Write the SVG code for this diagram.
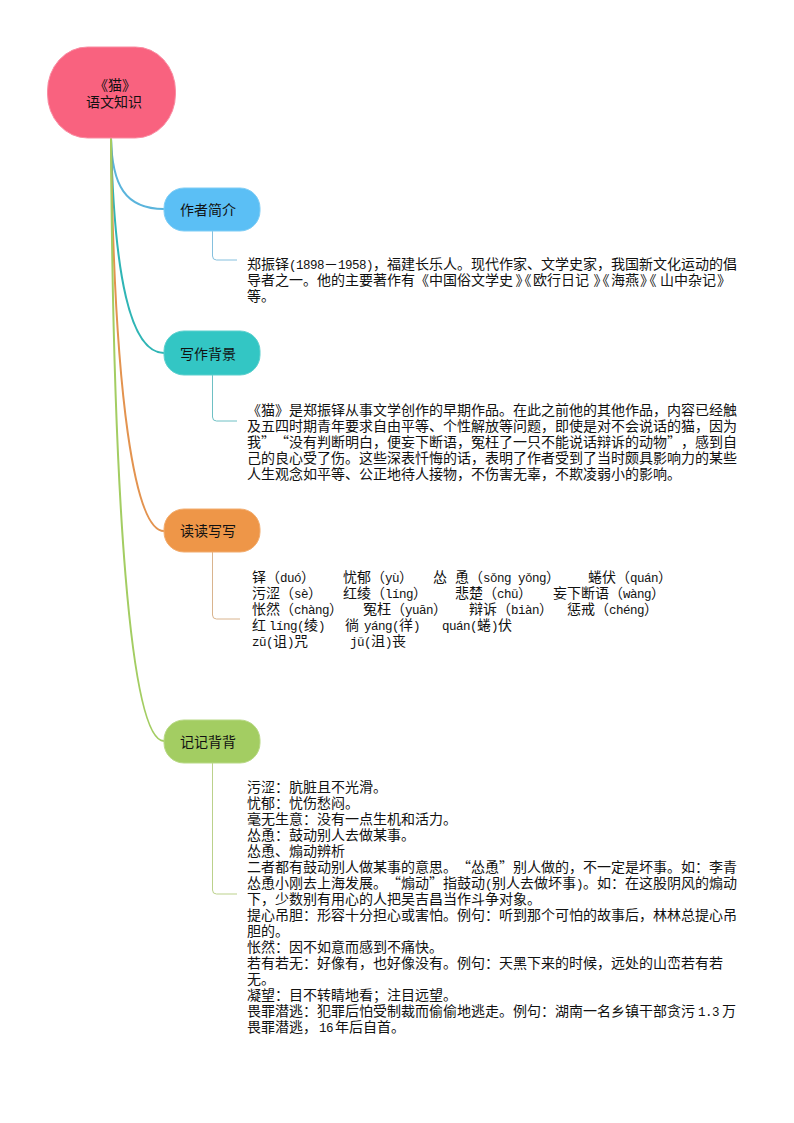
<svg xmlns="http://www.w3.org/2000/svg" width="794" height="1123" viewBox="0 0 794 1123">
<style>
text{font-family:"Noto Sans CJK SC","Liberation Sans",sans-serif;font-size:14px;fill:#111;text-spacing-trim:space-all;font-feature-settings:"palt" 0,"chws" 0}
.l{font-family:"Liberation Mono","Noto Sans CJK SC",monospace;font-size:12.5px;letter-spacing:-.5px}
.c{text-anchor:middle}
.main{fill:none;stroke-width:2}
.sub{fill:none;stroke-width:1}
</style>
<rect width="794" height="1123" fill="#fff"/>
<g id="connectors">
<path class="main" stroke="#5AB4DC" d="M111 138C112 185 125 209 164 209"/>
<path class="main" stroke="#2FB5B5" d="M111 138C114 275 130 353 164 353"/>
<path class="main" stroke="#E3934F" d="M111 138C114 400 135 531 164 531"/>
<path class="main" stroke="#A3CD62" d="M111 138C113 500 130 741 164 741"/>
<path class="sub" stroke="#85C0DE" d="M212.500 231V256Q212.500 260 216.500 260H237"/>
<path class="sub" stroke="#6EC0C4" d="M212.500 375V417Q212.500 421 216.500 421H237"/>
<path class="sub" stroke="#D9B48E" d="M212.500 552V615Q212.500 619 216.500 619H240"/>
<path class="sub" stroke="#BBD18B" d="M212.500 763V890Q212.500 894 216.500 894H237"/>
</g>
<g id="root">
<rect x="47.500" y="47" width="128" height="91" rx="40" ry="44" fill="#F9627F" stroke="#F98CA2"/>
<text class="c" x="115" y="90">《猫》</text>
<text class="c" x="114" y="107">语文知识</text>
</g>
<g id="n1">
<rect x="164" y="188" width="96" height="43" rx="20" fill="#5BBFF5" stroke="#7FCDF5"/>
<text class="c" x="208" y="215">作者简介</text>
<text x="247" y="269">郑振铎<tspan class="l">(1898</tspan>－<tspan class="l">1958)</tspan>，福建长乐人。现代作家、文学史家，我国新文化运动的倡</text>
<text x="247" y="285">导者之一。他的主要著作有《中国俗文学史<tspan x="515.500">》</tspan><tspan x="517.500">《</tspan><tspan x="533">欧行日记</tspan><tspan x="593.500">》</tspan><tspan x="595.500">《</tspan><tspan x="611">海燕</tspan><tspan x="640">》</tspan><tspan x="642.500">《</tspan><tspan x="660">山中杂记</tspan><tspan x="717">》</tspan></text>
<text x="247" y="301">等。</text>
</g>
<g id="n2">
<rect x="164" y="331" width="96" height="44" rx="20" fill="#33C6C4" stroke="#5CD0CE"/>
<text class="c" x="208" y="359">写作背景</text>
<text x="247" y="415">《猫》是郑振铎从事文学创作的早期作品。在此之前他的其他作品，内容已经触</text>
<text x="247" y="431">及五四时期青年要求自由平等、个性解放等问题，即使是对不会说话的猫，因为</text>
<text x="247" y="447">我”“没有判断明白，便妄下断语，冤枉了一只不能说话辩诉的动物”，感到自</text>
<text x="247" y="463">己的良心受了伤。这些深表忏悔的话，表明了作者受到了当时颇具影响力的某些</text>
<text x="247" y="479">人生观念如平等、公正地待人接物，不伤害无辜，不欺凌弱小的影响。</text>
</g>
<g id="n3">
<rect x="164" y="509" width="96" height="43" rx="20" fill="#EE9648" stroke="#F2AC6E"/>
<text class="c" x="208" y="536">读读写写</text>
<text y="582"><tspan x="252">铎（</tspan><tspan class="l">duó</tspan>）<tspan x="343">忧郁（</tspan><tspan class="l">yù</tspan>）<tspan x="433">怂</tspan><tspan x="455">恿（</tspan><tspan class="l">sǒng yǒng</tspan>）<tspan x="588">蜷伏（</tspan><tspan class="l">quán</tspan>）</text>
<text y="598"><tspan x="252">污涩（</tspan><tspan class="l">sè</tspan>）<tspan x="343">红绫（</tspan><tspan class="l">líng</tspan>）<tspan x="455">悲楚（</tspan><tspan class="l">chǔ</tspan>）<tspan x="553">妄下断语（</tspan><tspan class="l">wàng</tspan>）</text>
<text y="614"><tspan x="252">怅然（</tspan><tspan class="l">chàng</tspan>）<tspan x="363">冤枉（</tspan><tspan class="l">yuān</tspan>）<tspan x="469">辩诉（</tspan><tspan class="l">biàn</tspan>）<tspan x="567">惩戒（</tspan><tspan class="l">chéng</tspan>）</text>
<text y="630"><tspan x="252">红</tspan><tspan class="l" x="269">líng(</tspan>绫<tspan class="l">)</tspan><tspan x="345">徜</tspan><tspan class="l" x="364">yáng(</tspan>徉<tspan class="l">)</tspan><tspan class="l" x="442">quán(</tspan>蜷<tspan class="l">)</tspan>伏</text>
<text y="646"><tspan class="l" x="252">zū(</tspan>诅<tspan class="l">)</tspan>咒<tspan class="l" x="350">jǔ(</tspan>沮<tspan class="l">)</tspan>丧</text>
</g>
<g id="n4">
<rect x="164" y="720" width="96" height="43" rx="20" fill="#A3CD62" stroke="#B8D986"/>
<text class="c" x="208" y="747">记记背背</text>
<text x="247" y="792">污涩：肮脏且不光滑。</text>
<text x="247" y="808">忧郁：忧伤愁闷。</text>
<text x="247" y="824">毫无生意：没有一点生机和活力。</text>
<text x="247" y="840">怂恿：鼓动别人去做某事。</text>
<text x="247" y="856">怂恿、煽动辨析</text>
<text x="247" y="872">二者都有鼓动别人做某事的意思。“怂恿”别人做的，不一定是坏事。如：李青</text>
<text x="247" y="888">怂恿小刚去上海发展。“煽动”指鼓动<tspan class="l">(</tspan>别人去做坏事<tspan class="l">)</tspan>。如：在这股阴风的煽动</text>
<text x="247" y="904">下，少数别有用心的人把吴吉昌当作斗争对象。</text>
<text x="247" y="920">提心吊胆：形容十分担心或害怕。例句：听到那个可怕的故事后，林林总提心吊</text>
<text x="247" y="936">胆的。</text>
<text x="247" y="952">怅然：因不如意而感到不痛快。</text>
<text x="247" y="968">若有若无：好像有，也好像没有。例句：天黑下来的时候，远处的山峦若有若</text>
<text x="247" y="984">无。</text>
<text x="247" y="1000">凝望：目不转睛地看；注目远望。</text>
<text x="247" y="1016">畏罪潜逃：犯罪后怕受制裁而偷偷地逃走。例句：湖南一名乡镇干部贪污<tspan class="l" x="698">1.3</tspan><tspan x="722">万</tspan></text>
<text x="247" y="1032">畏罪潜逃，<tspan class="l" x="319">16</tspan><tspan x="335">年后自首。</tspan></text>
</g>
</svg>
